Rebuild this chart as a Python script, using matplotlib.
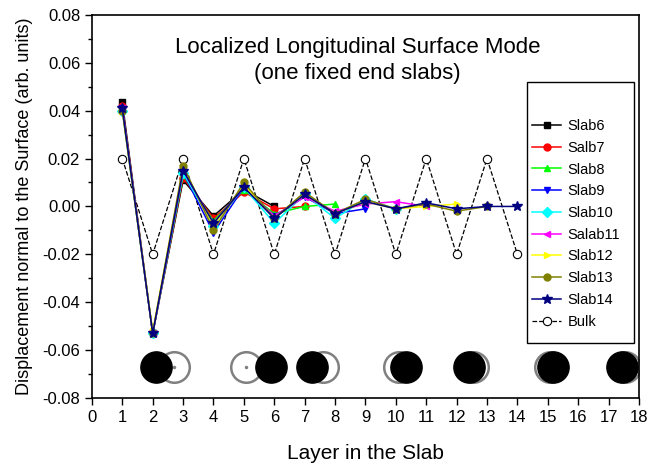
import matplotlib
matplotlib.use("Agg")
import matplotlib.pyplot as plt
from matplotlib.patches import Rectangle
from matplotlib.ticker import MultipleLocator
import numpy as np

plt.rcParams['font.family'] = ['Liberation Sans', 'DejaVu Sans']

# displacement per layer for each slab (layers 1..N)
slab6 = [0.0435, -0.053, 0.011, -0.004, 0.007, 0.000]
slab7 = [0.042, -0.053, 0.012, -0.005, 0.006, -0.001, 0.000]
slab8 = [0.041, -0.053, 0.013, -0.006, 0.007, -0.003, 0.000, 0.001]
slab9 = [0.041, -0.053, 0.014, -0.011, 0.008, -0.004, 0.004, -0.003, -0.001]
slab10 = [0.040, -0.053, 0.014, -0.008, 0.008, -0.007, 0.005, -0.005, 0.003, -0.001]
slab11 = [0.041, -0.053, 0.015, -0.007, 0.008, -0.004, 0.004, -0.002, 0.001, 0.002, 0.000]
slab12 = [0.040, -0.052, 0.016, -0.008, 0.009, -0.005, 0.005, -0.003, 0.002, -0.001, 0.000, 0.001]
slab13 = [0.040, -0.053, 0.017, -0.010, 0.010, -0.005, 0.006, -0.003, 0.003, -0.001, 0.001, -0.002, 0.000]
slab14 = [0.041, -0.053, 0.015, -0.007, 0.008, -0.005, 0.005, -0.003, 0.002, -0.001, 0.0015, -0.001, 0.000, 0.000]
bulk = [0.02, -0.02, 0.02, -0.02, 0.02, -0.02, 0.02, -0.02, 0.02, -0.02, 0.02, -0.02, 0.02, -0.02]

series = [slab6, slab7, slab8, slab9, slab10, slab11, slab12, slab13, slab14]
labels = ["Slab6", "Salb7", "Slab8", "Slab9", "Slab10", "Salab11", "Slab12", "Slab13", "Slab14"]
colors = ["black", "red", "#00ff00", "blue", "cyan", "magenta", "yellow", "#808000", "#000080"]
markers = ["s", "o", "^", "v", "D", "<", ">", "o", "*"]

# atom sketch at the bottom: grey rings = bulk positions, black = displaced
ring_x = [2.7, 5.06, 7.59, 10.12, 12.53, 15.06, 17.53]
atom_x = [2.12, 5.88, 7.24, 10.33, 12.4, 15.18, 17.45]
atom_y = -0.067
dot_x = [2.7, 5.06]

fig = plt.figure(figsize=(6.52, 4.66), dpi=100)
ax = fig.add_axes([0.141, 0.146, 0.839, 0.822])

for i, ys in enumerate(series):
    xs = np.arange(1, len(ys) + 1)
    ms = 7 if markers[i] == "*" else 5
    ax.plot(xs, ys, color=colors[i], marker=markers[i], markersize=ms,
            linewidth=1.1, label=labels[i], zorder=3 + i)

ax.plot(np.arange(1, len(bulk) + 1), bulk, color="black", linestyle="--",
        linewidth=0.9, marker="o", markersize=6, markerfacecolor="white",
        markeredgecolor="black", markeredgewidth=0.8, label="Bulk", zorder=2)

ax.plot(ring_x, [atom_y] * len(ring_x), linestyle="none", marker="o",
        markersize=22, markerfacecolor="none", markeredgecolor="#808080",
        markeredgewidth=1.8, zorder=2)
ax.plot(dot_x, [atom_y] * len(dot_x), linestyle="none", marker="o",
        markersize=1.5, color="#808080", zorder=2)
ax.plot(atom_x, [atom_y] * len(atom_x), linestyle="none", marker="o",
        markersize=22.5, color="black", zorder=3)

ax.set_xlim(0, 18)
ax.set_ylim(-0.08, 0.08)
ax.xaxis.set_major_locator(MultipleLocator(1))
ax.yaxis.set_major_locator(MultipleLocator(0.02))
ax.yaxis.set_minor_locator(MultipleLocator(0.01))
ax.set_yticklabels(["%.2f" % v for v in ax.get_yticks()])
ax.tick_params(axis="both", which="major", direction="out", length=5,
               width=1, labelsize=12)
ax.tick_params(axis="y", which="minor", direction="out", length=3, width=1)
for s in ax.spines.values():
    s.set_linewidth(1.2)

ax.set_xlabel("Layer in the Slab", fontsize=15, labelpad=14)
ax.set_ylabel("Displacement normal to the Surface (arb. units)", fontsize=13,
              labelpad=7)

ax.text(0.486, 0.915, "Localized Longitudinal Surface Mode",
        transform=ax.transAxes, ha="center", va="center", fontsize=16)
ax.text(0.486, 0.847, "(one fixed end slabs)",
        transform=ax.transAxes, ha="center", va="center", fontsize=16)

# legend box drawn separately (it has empty room above and below entries)
ax.add_patch(Rectangle((0.795, 0.144), 0.196, 0.681, transform=ax.transAxes,
                       facecolor="white", edgecolor="black", linewidth=1,
                       zorder=20))
leg = ax.legend(loc="upper left", bbox_to_anchor=(0.805, 0.728),
                frameon=False, fontsize=10.5, handlelength=2.0,
                handletextpad=0.4, labelspacing=0.53, borderaxespad=0,
                borderpad=0)
leg.set_zorder(21)

fig.savefig("out.png", dpi=100)
